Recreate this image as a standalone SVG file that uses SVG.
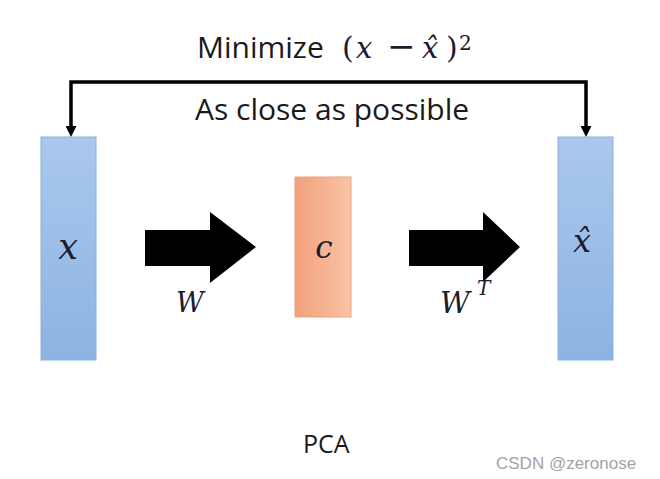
<svg xmlns="http://www.w3.org/2000/svg" width="660" height="479" viewBox="0 0 660 479">
  <style>
    .sans { font-family: "Open Sans", "Liberation Sans", sans-serif; fill: #1a1a1a; }
    .math { font-family: "DejaVu Serif", "Liberation Serif", serif; font-style: italic; fill: #1c1c2e; }
    .up { font-family: "DejaVu Serif", "Liberation Serif", serif; fill: #1c1c2e; }
    .bar { fill: url(#blueGrad); stroke: #8fb0d8; stroke-width: 1; }
    .code { fill: url(#orangeGrad); stroke: #f0a07c; stroke-width: 1; }
    .block { fill: #000; }
    .bracket { fill: none; stroke: #000; stroke-width: 3.5; }
  </style>
  <defs>
    <linearGradient id="blueGrad" x1="0" y1="0" x2="0" y2="1">
      <stop offset="0" stop-color="#a9c8ec"/>
      <stop offset="1" stop-color="#8db3e3"/>
    </linearGradient>
    <linearGradient id="orangeGrad" x1="0" y1="0" x2="1" y2="0">
      <stop offset="0" stop-color="#f2a07b"/>
      <stop offset="1" stop-color="#f8c4a6"/>
    </linearGradient>
    <marker id="head" viewBox="0 0 10 10" refX="0" refY="5" markerWidth="11" markerHeight="11" markerUnits="userSpaceOnUse" orient="auto-start-reverse">
      <path d="M0,0 L10,5 L0,10 z" fill="#000"/>
    </marker>
  </defs>
  <rect width="660" height="479" fill="#fff"/>

  <g id="title">
    <text class="sans" x="197" y="58" font-size="30">Minimize</text>
    <text class="up" x="342" y="58" font-size="30">(</text>
    <text class="math" x="356" y="58" font-size="29">x</text>
    <text class="up" x="387" y="58" font-size="34">−</text>
    <text class="math" x="422" y="58" font-size="29">x̂</text>
    <text class="up" x="446" y="58" font-size="30">)</text>
    <text class="up" x="459" y="50" font-size="20">2</text>
    <text class="sans" x="195" y="120" font-size="30">As close as possible</text>
  </g>

  <g id="connectors">
    <path class="bracket" d="M71,126 V82 H586 V126" marker-start="url(#head)" marker-end="url(#head)"/>
    <polygon class="block" points="145,230 210,230 210,212 256,247 210,283 210,266 145,266"/>
    <polygon class="block" points="409,230 483,230 483,212 520,247 483,282 483,266 409,266"/>
    <text class="math" x="176" y="312" font-size="27">W</text>
    <text class="math" x="440" y="313" font-size="29">W</text>
    <text class="math" x="477" y="295" font-size="20">T</text>
  </g>

  <g id="node-x">
    <rect class="bar" x="41" y="137" width="55" height="223"/>
    <text class="math" x="68" y="259" font-size="35" text-anchor="middle">x</text>
  </g>

  <g id="node-c">
    <rect class="code" x="295" y="177" width="56" height="140"/>
    <text class="math" x="324" y="258" font-size="31" text-anchor="middle">c</text>
  </g>

  <g id="node-xhat">
    <rect class="bar" x="558" y="137" width="55" height="223"/>
    <text class="math" x="582" y="252" font-size="32" text-anchor="middle">x̂</text>
  </g>

  <text class="sans" x="303" y="453" font-size="25" fill="#000">PCA</text>
  <text x="496" y="469" font-size="17" font-family="Liberation Sans, Arial, sans-serif" fill="#a3a3a3">CSDN @zeronose</text>
</svg>
